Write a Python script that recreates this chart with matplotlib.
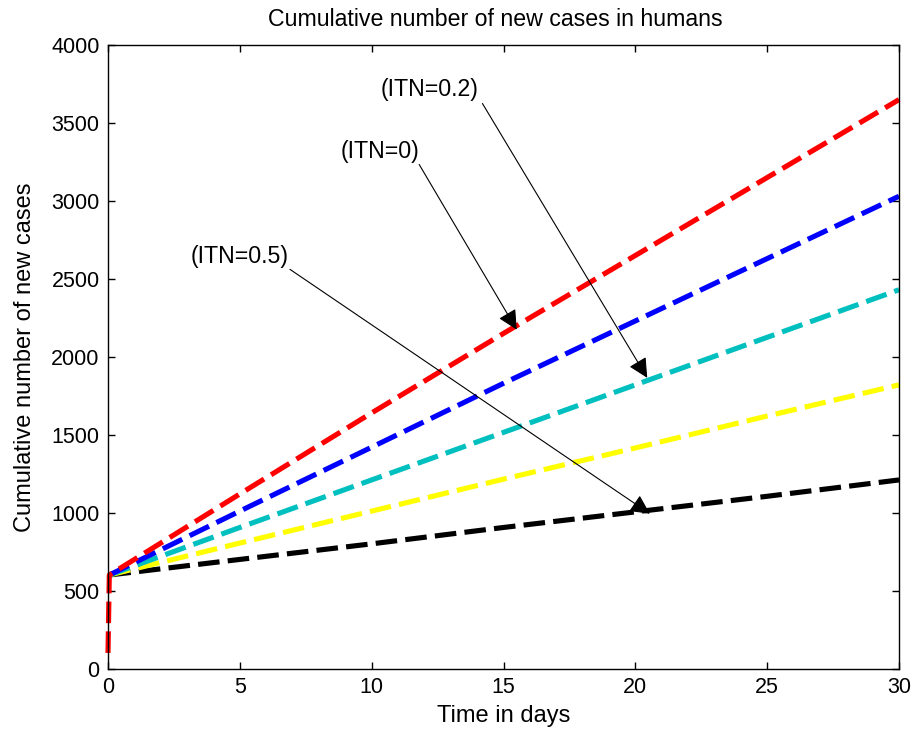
import matplotlib
matplotlib.use("Agg")
import matplotlib.pyplot as plt

# data
days = [0, 0.05, 5, 10, 15, 20, 25, 30]
itn_0   = [100, 600, 1120, 1640, 2150, 2650, 3150, 3650]
itn_01  = [100, 600, 1010, 1420, 1830, 2230, 2630, 3030]
itn_02  = [100, 600, 905, 1210, 1515, 1820, 2125, 2430]
itn_03  = [100, 600, 805, 1010, 1215, 1415, 1620, 1820]
itn_05  = [100, 600, 700, 800, 905, 1005, 1105, 1210]

# annotation labels: text position, arrow tail, arrow head (data coords)
labels = ["(ITN=0.2)", "(ITN=0)", "(ITN=0.5)"]
label_pos = [(12.2, 3714), (10.3, 3317), (5.0, 2646)]
arrow_tail = [(14.2, 3625), (11.8, 3234), (6.9, 2561)]
arrow_head = [(20.45, 1865), (15.5, 2174), (20.55, 993)]

plt.rcParams['font.family'] = ['Liberation Sans', 'DejaVu Sans']

fig = plt.figure(figsize=(9.16, 7.37), dpi=100)
ax = fig.add_axes([0.1179, 0.0929, 0.8636, 0.846])

dash = (0, (4.2, 1.6))
lw = 3.7
# lower curves share the start segment with the red one, which covers them
ax.plot(days[1:], itn_05[1:], color='black', lw=lw, linestyle=dash, clip_on=False)
ax.plot(days[1:], itn_03[1:], color='#ffff00', lw=lw, linestyle=dash, clip_on=False)
ax.plot(days[1:], itn_02[1:], color='#00bfbf', lw=lw, linestyle=dash, clip_on=False)
ax.plot(days[1:], itn_01[1:], color='#0000ff', lw=lw, linestyle=dash, clip_on=False)
ax.plot(days, itn_0, color='#ff0000', lw=lw, linestyle=dash, clip_on=False)

for lab, p, t, h in zip(labels, label_pos, arrow_tail, arrow_head):
    ax.text(p[0], p[1], lab, fontsize=16.7, ha='center', va='center')
    ax.annotate('', xy=h, xytext=t,
                arrowprops=dict(arrowstyle='-|>,head_length=0.6,head_width=0.3',
                                mutation_scale=20, color='black', lw=0.8,
                                shrinkA=0, shrinkB=0))

ax.set_xlim(0, 30)
ax.set_ylim(0, 4000)
ax.set_xticks(range(0, 31, 5))
ax.set_yticks(range(0, 4001, 500))
ax.tick_params(direction='in', length=5, width=1, top=True, right=True,
               labelsize=15.5, pad=6)
for s in ax.spines.values():
    s.set_linewidth(1.0)

ax.set_title("Cumulative number of new cases in humans", fontsize=16.7, pad=14, x=0.49)
ax.set_xlabel("Time in days", fontsize=17, labelpad=5)
ax.set_ylabel("Cumulative number of new cases", fontsize=17, labelpad=11)

fig.savefig("out.png", dpi=100)
